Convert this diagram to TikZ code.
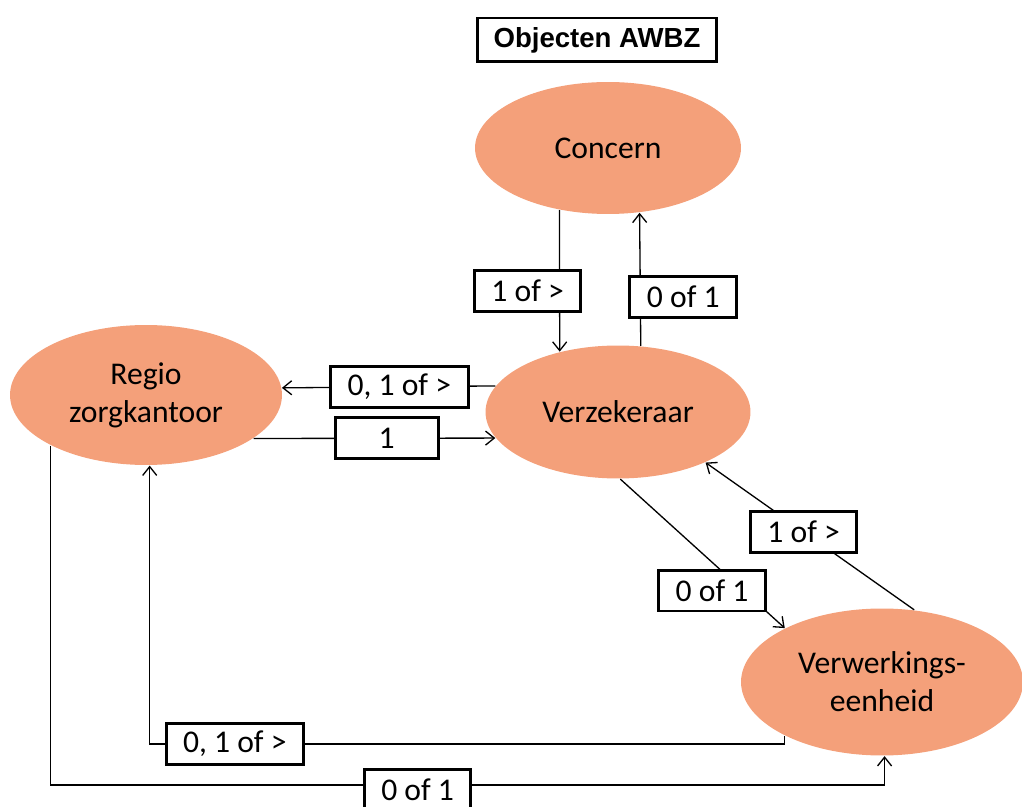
\documentclass[tikz,border=0pt]{standalone}
\usepackage{fontspec}
\setmainfont{Carlito}
\newfontfamily\titlefont{Liberation Sans}
\usetikzlibrary{shapes.geometric,arrows.meta}
\definecolor{zalm}{HTML}{F4A07A}
\tikzset{
    entity/.style={ellipse, fill=zalm, inner sep=0pt, align=center,
            font=\fontsize{18}{21.5}\selectfont},
    card/.style={draw, line width=1.7pt, fill=white, inner xsep=0.34cm,
            minimum width=2.06cm, minimum height=0.82cm,
            font=\fontsize{18}{21.5}\selectfont},
    titlebox/.style={draw, line width=1.7pt, minimum width=4.78cm, minimum height=0.88cm,
            font={\titlefont\bfseries\fontsize{15.7}{18}\selectfont}},
}

\begin{document}
\begin{tikzpicture}[x=0.02cm, y=-0.02cm, line width=0.75pt,
        >={Straight Barb[length=5pt,width=8pt]}]
    \useasboundingbox (0,0) rectangle (1022,807);
    %title
    \node[titlebox] (title) at (597,40) {Objecten AWBZ};
    %draw the four objects
    \node[entity, minimum width=5.32cm, minimum height=2.64cm] (concern) at (608,148) {Concern};
    \node[entity, minimum width=5.44cm, minimum height=2.8cm] (regio) at (146,395) {Regio\\zorgkantoor};
    \node[entity, minimum width=5.3cm, minimum height=2.66cm] (verz) at (618,412) {Verzekeraar};
    \node[entity, minimum width=5.64cm, minimum height=2.94cm] (verwerk) at (882,682) {Verwerkings-\\eenheid};
    %levels of the two lines along the bottom
    \coordinate (low1) at (0,744);
    \coordinate (low2) at (0,785);
    %draw connectors and label them
    \draw[->] (concern.232) -- (verz.134) node[card, pos=0.57, xshift=-0.64cm] {1 of >};
    \draw[->] (verz.71.5) -- (concern.296.6) node[card, pos=0.37, xshift=0.86cm] {0 of 1};
    \draw[->] (verz.168.5) -- (regio.3.4) node[card, pos=0.45] {0, 1 of >};
    \draw[->] (regio.338) -- (verz.192) node[card, pos=0.55] {1};
    \draw[->] (verz.272) -- (verwerk.151) node[card, pos=0.6, xshift=-0.14cm, yshift=-0.44cm] {0 of 1};
    \draw[->] (verwerk.66) -- (verz.330) node[card, pos=0.53] {1 of >};
    \draw[->] (verwerk.209) -- (verwerk.209 |- low1) -- (low1 -| regio.273)
        node[card, pos=0.866] {0, 1 of >} -- (regio.273);
    \draw[->] (regio.208) -- (regio.208 |- low2) -- (low2 -| verwerk.272)
        node[card, pos=0.44, yshift=-0.1cm] {0 of 1} -- (verwerk.272);
\end{tikzpicture}
\end{document}
